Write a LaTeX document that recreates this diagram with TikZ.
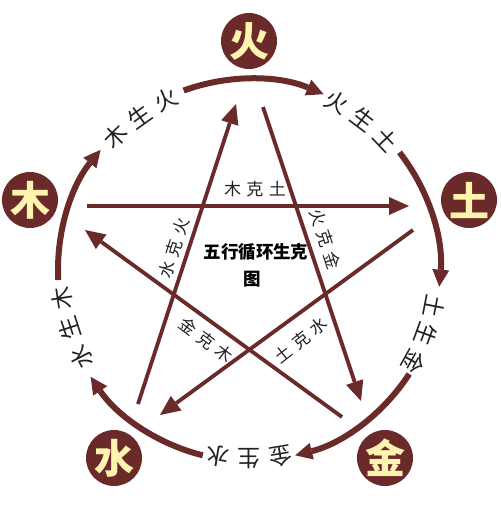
\documentclass[tikz,border=0pt]{standalone}
\usepackage{fontspec}
\newfontfamily\cjk{Noto Sans CJK SC}
\newfontfamily\cjkls{Noto Sans CJK SC}[LetterSpace=32]
\usetikzlibrary{arrows.meta}
\definecolor{maroon}{HTML}{6B2A2A}
\definecolor{gold}{HTML}{FFF3B0}
\definecolor{ink}{HTML}{222222}
\tikzset{
  elem/.style={circle, fill=maroon, minimum size=56pt, inner sep=0pt, text=gold,
    font=\cjk\bfseries\fontsize{40}{40}\selectfont},
  shengarc/.style={draw=maroon, line width=6pt, -{Triangle[length=17pt,width=17pt,line width=0pt]}},
  keline/.style={draw=maroon, line width=3.8pt, -{Triangle[length=20pt,width=18pt,line width=0pt]}},
  arclabel/.style={text=ink, font=\cjk\fontsize{23}{23}\selectfont, inner sep=0pt},
  kelabel/.style={text=ink, font=\cjkls\fontsize{17}{17}\selectfont, inner sep=0pt},
  titletext/.style={font=\cjk\bfseries\fontsize{17.5}{17.5}\selectfont, text=black, inner sep=0pt},
}
\begin{document}
\begin{tikzpicture}[x=1pt,y=1pt]
\fill[white] (0,0) rectangle (501,-515);
\useasboundingbox (0,0) rectangle (501,-515);

% element circles
\node[elem] (huo) at (249,-41) {火};
\node[elem] (mu)  at (30,-200) {木};
\node[elem] (tu)  at (469,-200) {土};
\node[elem] (shui) at (114,-458) {水};
\node[elem] (jin) at (385,-458) {金};

% generating arcs (clockwise)
\coordinate (C) at (249,-270);
\foreach \n/\s/\e in {a1/183/141, a2/110/67, a3/38/-5, a4/-33/-76, a5/-104/-146}{
  \coordinate (\n) at ([shift={(C)}]\s:191);
  \draw[shengarc] (\n) arc[start angle=\s, end angle=\e, radius=191];
}

% arc labels
\foreach \n/\a/\t in {
  l1a/135/木, l1b/125.5/生, l1c/116/火,
  l2a/62.5/火, l2b/53/生, l2c/43.5/土,
  l3a/-11/土, l3b/-20/生, l3c/-29/金,
  l4a/-80.5/金, l4b/-90/生, l4c/-99.5/水,
  l5a/-152.5/水, l5b/-162/生, l5c/-171.5/木}{
  \node[arclabel, rotate=\a-90] (\n) at ([shift={(C)}]\a:189) {\t};
}

% controlling star
\coordinate (k1s) at (87,-206);  \coordinate (k1e) at (409,-206);
\coordinate (k2s) at (263,-107); \coordinate (k2e) at (361,-401);
\coordinate (k3s) at (342,-417); \coordinate (k3e) at (85,-230);
\coordinate (k4s) at (413,-230); \coordinate (k4e) at (160,-415);
\coordinate (k5s) at (138,-404); \coordinate (k5e) at (236,-104);
\draw[keline] (k1s) -- (k1e);
\draw[keline] (k2s) -- (k2e);
\draw[keline] (k3s) -- (k3e);
\draw[keline] (k4s) -- (k4e);
\draw[keline] (k5s) -- (k5e);

\node[kelabel] (t1) at (255,-189) {木克土};
\node[kelabel, rotate=-72] (t2) at (325,-239) {火克金};
\node[kelabel, rotate=-37] (t3) at (206,-340) {金克木};
\node[kelabel, rotate=38] (t4) at (301,-340) {土克水};
\node[kelabel, rotate=72] (t5) at (174,-248) {水克火};

% centre title
\node[titletext] (title1) at (256,-252) {五行循环生克};
\node[titletext] (title2) at (252,-279) {图};
\end{tikzpicture}
\end{document}
